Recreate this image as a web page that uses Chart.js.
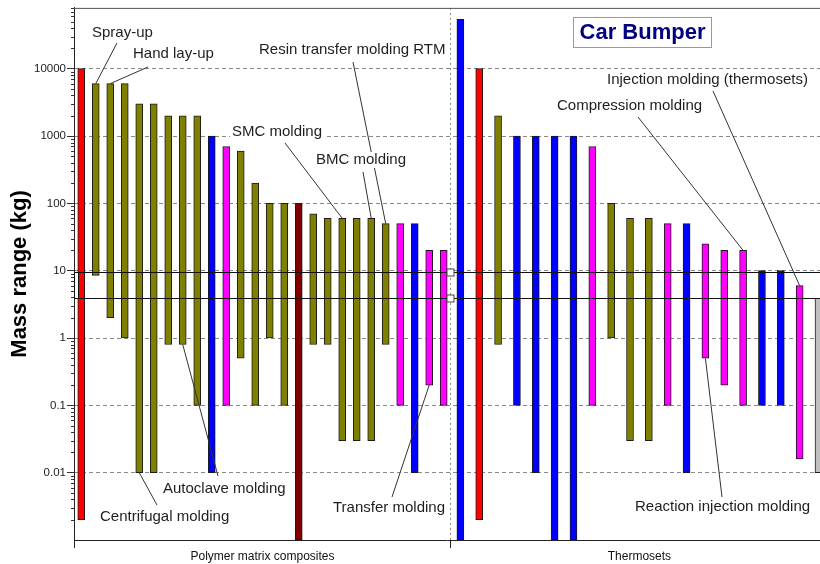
<!DOCTYPE html>
<html>
<head>
<meta charset="utf-8">
<script src="https://cdn.jsdelivr.net/npm/chart.js@4.4.1/dist/chart.umd.min.js"></script>
<style>
  html, body { margin: 0; padding: 0; background: #fff; overflow: hidden; }
</style>
</head>
<body>
<canvas id="chart" width="820" height="564"></canvas>
<script>
const groups = ['Polymer matrix composites', 'Thermosets'];

// Polymer matrix composites: mass range per process (kg)
const pmcLow  = [0.002, 8.5, 2, 1, 0.01, 0.01, 0.8, 0.8, 0.1, 0.01, 0.1, 0.5, 0.1, 1, 0.1, 0.001, 0.8, 0.8, 0.03, 0.03, 0.03, 0.8, 0.1, 0.01, 0.2, 0.1];
const pmcHigh = [10000, 6000, 6000, 6000, 3000, 3000, 2000, 2000, 2000, 1000, 700, 600, 200, 100, 100, 100, 70, 60, 60, 60, 60, 50, 50, 50, 20, 20];
const pmcKind = ['R', 'O', 'O', 'O', 'O', 'O', 'O', 'O', 'O', 'B', 'M', 'O', 'O', 'O', 'O', 'D', 'O', 'O', 'O', 'O', 'O', 'O', 'M', 'B', 'M', 'M'];

// Thermosets
const thLow  = [0.001, 0.002, 0.8, 0.1, 0.01, 0.001, 0.001, 0.1, 1, 0.03, 0.03, 0.1, 0.01, 0.5, 0.2, 0.1, 0.1, 0.1, 0.016, 0.01];
const thHigh = [54000, 10000, 2000, 1000, 1000, 1000, 1000, 700, 100, 60, 60, 50, 50, 25, 20, 20, 10, 10, 6, 3.9];
const thKind = ['B', 'R', 'O', 'B', 'B', 'B', 'B', 'M', 'O', 'O', 'O', 'M', 'B', 'M', 'M', 'M', 'B', 'B', 'M', 'G'];

// car bumper mass window (kg)
const selection = [3.9, 9.7];
const yTickLabels = ['0.01', '0.1', '1', '10', '100', '1000', '10000'];

const FONT = '"Liberation Sans", Arial, sans-serif';
const palette = { R: '#ff0000', O: '#808000', B: '#0000ff', M: '#ff00ff', D: '#800000', G: '#c0c0c0' };
const yMin = 0.001, yMax = 80000, xMax = 1.979;

const series = [[pmcLow, pmcHigh, pmcKind], [thLow, thHigh, thKind]];
const barPos = (g, i) => g + (i + 0.5) / series[g][0].length;

const points = [], colors = [];
series.forEach(([lo, hi, kind], g) => {
  lo.forEach((v, i) => {
    points.push({ x: barPos(g, i), y: [v, hi[i]] });
    colors.push(palette[kind[i]]);
  });
});

const majors = yTickLabels.map(Number);
const isMajor = v => majors.some(m => Math.abs(m - v) < m * 1e-9);
const yTicks = majors.slice();
for (let e = -3; e <= 4; e++) {
  for (let s = 2; s <= 9; s++) {
    const v = s * Math.pow(10, e);
    if (v <= yMax) yTicks.push(v);
  }
}
yTicks.sort((a, b) => a - b);

const callouts = [
  { text: 'Spray-up', g: 0, i: 1, end: 'hi', tx: 92, ty: 33, lx: 117, ly: 43 },
  { text: 'Hand lay-up', g: 0, i: 2, end: 'hi', tx: 133, ty: 54, lx: 148, ly: 67 },
  { text: 'Resin transfer molding RTM', g: 0, i: 21, end: 'hi', tx: 259, ty: 50, lx: 353, ly: 62 },
  { text: 'SMC molding', g: 0, i: 18, end: 'hi', tx: 232, ty: 132, lx: 285, ly: 143 },
  { text: 'BMC molding', g: 0, i: 20, end: 'hi', tx: 316, ty: 160, lx: 363, ly: 172 },
  { text: 'Autoclave molding', g: 0, i: 7, end: 'lo', tx: 163, ty: 489, lx: 218, ly: 476 },
  { text: 'Centrifugal molding', g: 0, i: 4, end: 'lo', tx: 100, ty: 517, lx: 157, ly: 505 },
  { text: 'Transfer molding', g: 0, i: 24, end: 'lo', tx: 333, ty: 508, lx: 392, ly: 497 },
  { text: 'Injection molding (thermosets)', g: 1, i: 18, end: 'hi', tx: 607, ty: 80, lx: 713, ly: 91 },
  { text: 'Compression molding', g: 1, i: 15, end: 'hi', tx: 557, ty: 106, lx: 638, ly: 117 },
  { text: 'Reaction injection molding', g: 1, i: 13, end: 'lo', tx: 635, ty: 507, lx: 722, ly: 497 }
];

const frame = {
  id: 'frame',
  afterDatasetsDraw(chart) {
    const { ctx, chartArea: a, scales: { x, y } } = chart;
    ctx.save();
    ctx.lineWidth = 1;
    // minor ticks on the log axis
    ctx.strokeStyle = '#333';
    y.ticks.forEach(t => {
      if (isMajor(t.value)) return;
      const py = Math.round(y.getPixelForValue(t.value)) + 0.5;
      ctx.beginPath(); ctx.moveTo(a.left - 3, py); ctx.lineTo(a.left, py); ctx.stroke();
    });
    // top border
    ctx.strokeStyle = '#555';
    ctx.beginPath(); ctx.moveTo(a.left, a.top + 0.5); ctx.lineTo(a.right, a.top + 0.5); ctx.stroke();
    // selection window
    const [pLo, pHi] = selection.map(v => Math.round(y.getPixelForValue(v)) + 0.5);
    ctx.strokeStyle = '#111';
    [pLo, pHi].forEach(py => {
      ctx.beginPath(); ctx.moveTo(a.left, py); ctx.lineTo(a.right, py); ctx.stroke();
    });
    ctx.fillStyle = '#fff';
    ctx.fillRect(a.left, pHi, 4, pLo - pHi);
    ctx.strokeRect(a.left + 0.5, pHi, 4, pLo - pHi);
    const dx = Math.round(x.getPixelForValue(1)) - 0.5;
    ctx.strokeStyle = '#444';
    [pLo, pHi].forEach(py => {
      ctx.fillRect(dx - 3.5, py - 3.5, 7, 7);
      ctx.strokeRect(dx - 3.5, py - 3.5, 7, 7);
    });
    ctx.restore();
  },
  afterDraw(chart) {
    const { ctx, scales: { x, y } } = chart;
    ctx.save();
    ctx.lineWidth = 1;
    ctx.strokeStyle = '#333';
    callouts.forEach(c => {
      const bx = x.getPixelForValue(barPos(c.g, c.i));
      const v = c.end === 'hi' ? series[c.g][1][c.i] : series[c.g][0][c.i];
      ctx.beginPath(); ctx.moveTo(c.lx, c.ly); ctx.lineTo(bx, y.getPixelForValue(v)); ctx.stroke();
    });
    ctx.font = '15px ' + FONT;
    ctx.textBaseline = 'middle';
    callouts.forEach(c => {
      const w = ctx.measureText(c.text).width;
      ctx.fillStyle = '#fff';
      ctx.fillRect(c.tx - 2, c.ty - 8, w + 4, 16);
      ctx.fillStyle = '#1e1e1e';
      ctx.fillText(c.text, c.tx, c.ty);
    });
    // title box
    ctx.fillStyle = '#fff';
    ctx.fillRect(573, 17, 139, 31);
    ctx.strokeStyle = '#999';
    ctx.strokeRect(573.5, 17.5, 138, 30);
    ctx.font = 'bold 22px ' + FONT;
    ctx.textAlign = 'center';
    ctx.fillStyle = '#000080';
    ctx.fillText('Car Bumper', 642.5, 33);
    ctx.restore();
  }
};

Chart.defaults.font.family = FONT;

new Chart(document.getElementById('chart'), {
  type: 'bar',
  data: {
    datasets: [{
      data: points,
      backgroundColor: colors,
      borderColor: '#1a1a1a',
      borderWidth: 1,
      borderSkipped: false,
      barThickness: 7
    }]
  },
  options: {
    responsive: false,
    animation: false,
    layout: { padding: { top: 1, right: 0, bottom: 0, left: 0 } },
    plugins: { legend: { display: false }, tooltip: { enabled: false } },
    scales: {
      x: {
        type: 'linear', min: 0, max: xMax, offset: false,
        afterBuildTicks: s => { s.ticks = [0, 0.5, 1, 1.5].map(v => ({ value: v })); },
        afterFit: s => { s.height = 24; },
        ticks: {
          autoSkip: false, maxRotation: 0, padding: 1, color: '#111',
          font: { size: 12 },
          callback: v => (v % 1 ? groups[Math.floor(v)] : '')
        },
        grid: {
          offset: false,
          color: c => (c.tick && c.tick.value === 1 ? '#8a8a8a' : 'rgba(0,0,0,0)'),
          tickColor: c => (c.tick && c.tick.value % 1 === 0 ? '#222' : 'rgba(0,0,0,0)'),
          tickLength: 8
        },
        border: { color: '#222', dash: [2, 3] }
      },
      y: {
        type: 'logarithmic', min: yMin, max: yMax,
        afterBuildTicks: s => { s.ticks = yTicks.map(v => ({ value: v, major: isMajor(v) })); },
        afterFit: s => { s.width = 74; },
        ticks: {
          autoSkip: false, padding: 1, color: '#222',
          font: { size: 11.5 },
          callback: v => (isMajor(v) ? yTickLabels[majors.findIndex(m => Math.abs(m - v) < m * 1e-9)] : '')
        },
        grid: {
          color: c => (c.tick && isMajor(c.tick.value) ? '#8a8a8a' : 'rgba(0,0,0,0)'),
          tickColor: c => (c.tick && isMajor(c.tick.value) ? '#333' : 'rgba(0,0,0,0)'),
          tickLength: 7
        },
        border: { color: '#222', dash: [4, 3] },
        title: {
          display: true, text: 'Mass range (kg)', color: '#000',
          font: { size: 22, weight: 'bold' },
          padding: { top: 7, bottom: 0 }
        }
      }
    }
  },
  plugins: [frame]
});
</script>
</body>
</html>
